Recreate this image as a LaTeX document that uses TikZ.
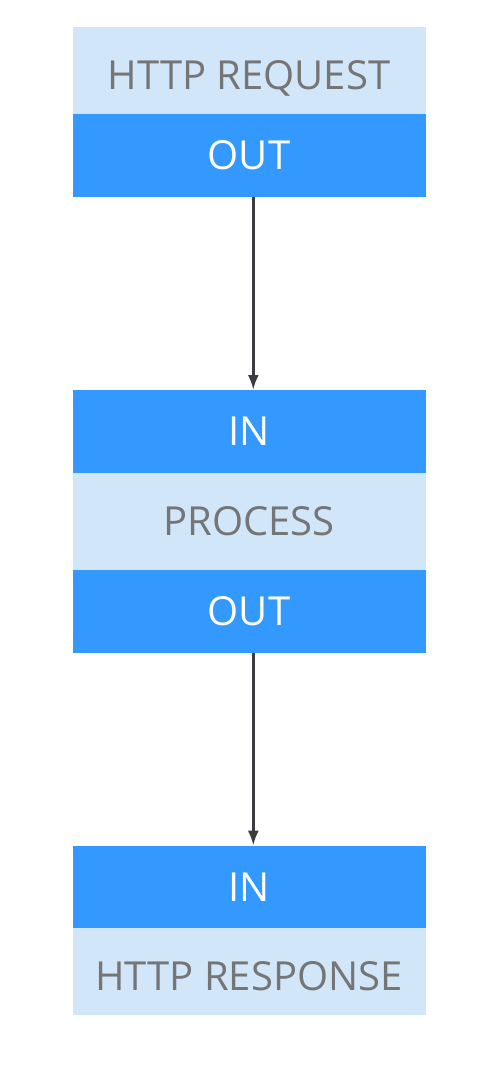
\documentclass[tikz,border=0pt]{standalone}
\usepackage{fontspec}
\setmainfont{Open Sans}
\usetikzlibrary{positioning,arrows.meta}
\definecolor{paleblue}{HTML}{D2E6F9}
\definecolor{vividblue}{HTML}{3399FF}
\definecolor{labelgray}{HTML}{757575}
\definecolor{arrowgray}{HTML}{3C3C40}

\tikzset{
  stage/.style={rectangle, minimum width=353pt, minimum height=82.7pt, inner sep=0pt, outer sep=0pt,
    font=\fontsize{40}{40}\selectfont, text height=28.5pt, text depth=0pt},
  namebox/.style={stage, fill=paleblue, text=labelgray},
  portbox/.style={stage, fill=vividblue, text=white},
  flow/.style={draw=arrowgray, line width=2.8pt, -{Latex[length=15pt,width=11pt]}}
}

\begin{document}
\begin{tikzpicture}
  \useasboundingbox (0pt,0pt) rectangle (499pt,-1073pt);

  % Richiesta
  \node[namebox, anchor=north, minimum height=87pt, text height=37.5pt] (req) at (249pt,-27.3pt) {HTTP REQUEST};
  \node[portbox, below=0pt of req] (reqout) {OUT};

  % Elaborazione
  \node[portbox, below=193pt of reqout] (procin) {IN};
  \node[namebox, minimum height=97.3pt, below=0pt of procin] (proc) {PROCESS};
  \node[portbox, below=0pt of proc] (procout) {OUT};

  % Risposta
  \node[portbox, below=193pt of procout] (respin) {IN};
  \node[namebox, minimum height=86.7pt, text height=37.5pt, below=0pt of respin] (resp) {HTTP RESPONSE};

  \draw[flow] ([xshift=4.3pt]reqout.south) -- ([xshift=4.3pt]procin.north);
  \draw[flow] ([xshift=4.3pt]procout.south) -- ([xshift=4.3pt]respin.north);
\end{tikzpicture}
\end{document}
